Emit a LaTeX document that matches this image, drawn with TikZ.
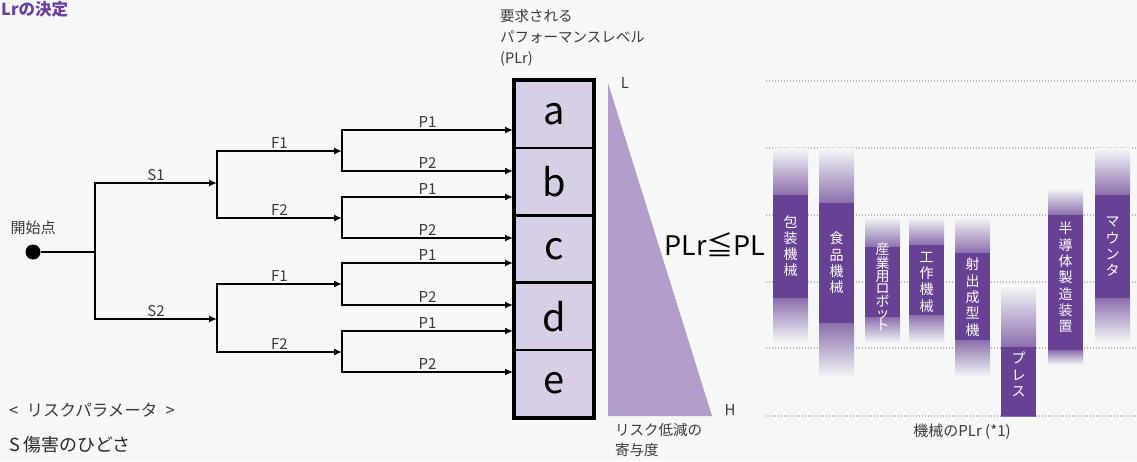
\documentclass[tikz,border=0pt]{standalone}
\usepackage{fontspec}
\setmainfont{Noto Sans CJK JP}
\usetikzlibrary{arrows.meta,positioning}
\definecolor{bgc}{HTML}{F6F8F8}
\definecolor{barc}{HTML}{674194}
\definecolor{boxc}{HTML}{D8CFE6}
\definecolor{tric}{HTML}{B09DCA}
\definecolor{txtc}{HTML}{3A3A3A}
\definecolor{ttlc}{HTML}{6A41A0}
\definecolor{gridc}{HTML}{B8B8B8}

\begin{document}
\begin{tikzpicture}[x=1pt,y=-1pt]
  \tikzset{start dot/.style={circle,fill=black,inner sep=0pt,minimum size=15pt},
    branch/.style={line width=2.8pt},
    tip/.style={-{Latex[length=8pt,width=7pt]}},
    lbl/.style={font=\fontsize{15}{18}\selectfont,text=txtc,inner sep=1pt},
    cell/.style={draw=black,line width=2.5pt,fill=boxc,minimum width=78pt,
      minimum height=67.2pt,inner sep=0pt,font=\fontsize{38}{40}\selectfont},
    bar text/.style={text=white,align=center,anchor=north,inner sep=0pt},
    grid line/.style={gridc,line width=1.2pt,dash pattern=on 1.2pt off 1.8pt}
  }
  \fill[bgc] (0,0) rectangle (1137,461);
  \useasboundingbox (0,0) rectangle (1137,461);

  % title and notes
  \node[anchor=base west,inner sep=0pt,text=ttlc,font=\fontsize{16.5}{20}\selectfont\bfseries] (title) at (1,15) {Lrの決定};
  \node[lbl,anchor=west,font=\fontsize{16.5}{20}\selectfont] (param) at (8,410) {<\enspace リスクパラメータ\enspace >};
  \node[anchor=west,inner sep=1pt,text=black!85,font=\fontsize{18}{21}\selectfont] (sev) at (8,445) {S 傷害のひどさ};

  % risk graph
  \node[start dot] (start) at (33,252) {};
  \node[lbl,above=8pt of start] (startlbl) {開始点};
  \coordinate (j0) at (95,252);
  \coordinate (s1) at (217,183);
  \coordinate (s2) at (217,319);
  \coordinate (f11) at (342,151);
  \coordinate (f12) at (342,218);
  \coordinate (f21) at (342,284);
  \coordinate (f22) at (342,352);
  \draw[branch] (start) -- (j0);
  \draw[branch,tip] (j0) |- (s1) node[lbl,pos=0.75,above] {S1};
  \draw[branch,tip] (j0) |- (s2) node[lbl,pos=0.75,above] {S2};
  \draw[branch,tip] (s1) |- (f11) node[lbl,pos=0.75,above] {F1};
  \draw[branch,tip] (s1) |- (f12) node[lbl,pos=0.75,above] {F2};
  \draw[branch,tip] (s2) |- (f21) node[lbl,pos=0.75,above] {F1};
  \draw[branch,tip] (s2) |- (f22) node[lbl,pos=0.75,above] {F2};

  % performance levels
  \foreach \l [count=\i] in {a,b,c,d,e}
    \node[cell] (\l) at (554,81+67.2*\i-33.6) {\l};
  \draw[line width=3.5pt] (a.north west) rectangle (e.south east);
  \foreach \f/\ya/\yb in {f11/130/171,f12/197/238,f21/263/305,f22/331/372} {
    \coordinate (\f p1) at (513,\ya);
    \coordinate (\f p2) at (513,\yb);
    \draw[branch,tip] (\f) |- (\f p1) node[lbl,pos=0.75,above] {P1};
    \draw[branch,tip] (\f) |- (\f p2) node[lbl,pos=0.75,above] {P2};
  }
  \node[lbl,anchor=north west,align=left,font=\fontsize{14.5}{21}\selectfont] (plr) at (499,8)
    {要求される\\パフォーマンスレベル\\(PLr)};

  % risk reduction wedge
  \fill[tric] (608,83) -- (608,416) -- (712,416) -- cycle;
  \node[lbl] (L) at (625,83) {L};
  \node[lbl] (H) at (730,410) {H};
  \node[lbl,anchor=north west,align=left,font=\fontsize{14.5}{20}\selectfont] (contrib) at (614,422)
    {リスク低減の\\寄与度};
  \node[inner sep=0pt,text=black,font=\fontsize{27}{30}\selectfont] (cmp) at (715,245) {PLr≦PL};

  % machine PLr chart
  \foreach \y in {81,148,215,282,348,416}
    \draw[grid line] (766,\y) -- (1137,\y);
  \foreach \x/\a/\b/\c/\d/\t/\s/\txt in {
      773/148/195/298/343/215/16.3/{包\\装\\機\\械},
      819/148/203/323/378/232/16.3/{食\\品\\機\\械},
      865/217/247/317/343/243/12.4/{産\\業\\用\\ロ\\ボ\\ッ\\ト},
      909/217/245/315/343/252/16.3/{工\\作\\機\\械},
      955/217/253/340/377/258/16.3/{射\\出\\成\\型\\機},
      1001/285/347/416/417/352/16.3/{プ\\レ\\ス},
      1048/188/215/350/365/222/16.3/{半\\導\\体\\製\\造\\装\\置},
      1095/148/195/298/343/217/16.3/{マ\\ウ\\ン\\タ}} {
    \shade[top color=bgc,bottom color=barc!75!bgc] (\x,\a) rectangle (\x+35,\b);
    \fill[barc] (\x,\b) rectangle (\x+35,\c);
    \shade[top color=barc!75!bgc,bottom color=bgc] (\x,\c) rectangle (\x+35,\d);
    \node[bar text,font=\fontsize{14}{\s}\selectfont] at (\x+17.5,\t) {\txt};
  }
  \node[lbl] (plrlbl) at (962,432) {機械のPLr (*1)};
\end{tikzpicture}
\end{document}
